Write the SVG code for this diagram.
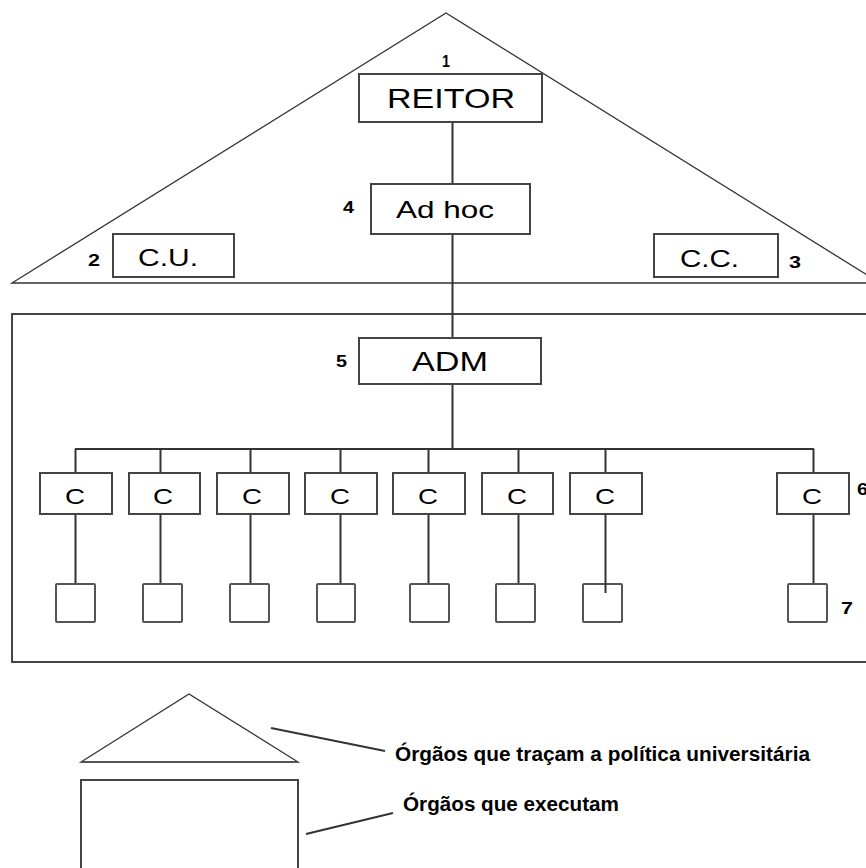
<svg xmlns="http://www.w3.org/2000/svg" width="866" height="868" viewBox="0 0 866 868">
<style>
.bg{fill:#fff}
.box{fill:#fff;stroke:#444;stroke-width:2}
.sbox{fill:#fff;stroke:#555;stroke-width:2}
.tri{fill:none;stroke:#333;stroke-width:1.3}
.frame{fill:none;stroke:#444;stroke-width:2}
.conn{fill:none;stroke:#333;stroke-width:2}
.lbl{font-family:"Liberation Sans",Arial,sans-serif;fill:#000;text-anchor:middle}
.num{font-family:"Liberation Sans",Arial,sans-serif;font-weight:bold;font-size:17px;fill:#000}
.leg{font-family:"Liberation Sans",Arial,sans-serif;font-weight:bold;font-size:20px;fill:#000}
</style>
<rect class="bg" x="0" y="0" width="866" height="868"/>

<!-- policy triangle and executive frame -->
<g id="policy-area">
  <polygon class="tri" points="12,283 446,13 880,283"/>
</g>
<g id="execution-area">
  <rect class="frame" x="12" y="314" width="870" height="348"/>
</g>

<g id="connectors">
  <line class="conn" x1="452.5" y1="122" x2="452.5" y2="184"/>
  <line class="conn" x1="452.5" y1="234" x2="452.5" y2="338"/>
  <line class="conn" x1="452.5" y1="384" x2="452.5" y2="449"/>
  <line class="conn" x1="75" y1="449" x2="814" y2="449"/>
  <line class="conn" x1="75.5" y1="449" x2="75.5" y2="473"/>
  <line class="conn" x1="160.5" y1="449" x2="160.5" y2="473"/>
  <line class="conn" x1="250.5" y1="449" x2="250.5" y2="473"/>
  <line class="conn" x1="340.5" y1="449" x2="340.5" y2="473"/>
  <line class="conn" x1="428.5" y1="449" x2="428.5" y2="473"/>
  <line class="conn" x1="518.5" y1="449" x2="518.5" y2="473"/>
  <line class="conn" x1="605.5" y1="449" x2="605.5" y2="473"/>
  <line class="conn" x1="813.5" y1="449" x2="813.5" y2="473"/>
  <line class="conn" x1="75.5" y1="514" x2="75.5" y2="584"/>
  <line class="conn" x1="160.5" y1="514" x2="160.5" y2="584"/>
  <line class="conn" x1="250.5" y1="514" x2="250.5" y2="584"/>
  <line class="conn" x1="340.5" y1="514" x2="340.5" y2="584"/>
  <line class="conn" x1="428.5" y1="514" x2="428.5" y2="584"/>
  <line class="conn" x1="518.5" y1="514" x2="518.5" y2="584"/>
  <line class="conn" x1="813.5" y1="514" x2="813.5" y2="584"/>
  <line class="conn" x1="271" y1="728" x2="385" y2="751" stroke-width="1.6"/>
  <line class="conn" x1="306" y1="834" x2="393" y2="813" stroke-width="1.6"/>
</g>

<g id="reitor">
  <rect class="box" x="359" y="74" width="183" height="48"/>
  <text class="lbl" x="451" y="108" font-size="28" textLength="128" lengthAdjust="spacingAndGlyphs">REITOR</text>
  <text class="num" x="442" y="67" textLength="8" lengthAdjust="spacingAndGlyphs">1</text>
</g>
<g id="adhoc">
  <rect class="box" x="371" y="184" width="159" height="50"/>
  <text class="lbl" x="445" y="218" font-size="24" textLength="98" lengthAdjust="spacingAndGlyphs">Ad hoc</text>
  <text class="num" x="343" y="213" textLength="11" lengthAdjust="spacingAndGlyphs">4</text>
</g>
<g id="cu">
  <rect class="box" x="113" y="234" width="121" height="43"/>
  <text class="lbl" x="168" y="266" font-size="23" textLength="60" lengthAdjust="spacingAndGlyphs">C.U.</text>
  <text class="num" x="88" y="266" textLength="12" lengthAdjust="spacingAndGlyphs">2</text>
</g>
<g id="cc">
  <rect class="box" x="654" y="234" width="124" height="43"/>
  <text class="lbl" x="709.5" y="267" font-size="23" textLength="59" lengthAdjust="spacingAndGlyphs">C.C.</text>
  <text class="num" x="789" y="268" textLength="12" lengthAdjust="spacingAndGlyphs">3</text>
</g>
<g id="adm">
  <rect class="box" x="359" y="338" width="182" height="46"/>
  <text class="lbl" x="450" y="371" font-size="27" textLength="76" lengthAdjust="spacingAndGlyphs">ADM</text>
  <text class="num" x="336" y="367" textLength="11" lengthAdjust="spacingAndGlyphs">5</text>
</g>

<g id="c1"><rect class="box" x="40" y="473" width="72" height="41"/><text class="lbl" x="75" y="504" font-size="22" textLength="20" lengthAdjust="spacingAndGlyphs">C</text></g>
<g id="c2"><rect class="box" x="129" y="473" width="71" height="41"/><text class="lbl" x="163" y="504" font-size="22" textLength="20" lengthAdjust="spacingAndGlyphs">C</text></g>
<g id="c3"><rect class="box" x="217" y="473" width="72" height="41"/><text class="lbl" x="252" y="504" font-size="22" textLength="20" lengthAdjust="spacingAndGlyphs">C</text></g>
<g id="c4"><rect class="box" x="305" y="473" width="72" height="41"/><text class="lbl" x="340" y="504" font-size="22" textLength="20" lengthAdjust="spacingAndGlyphs">C</text></g>
<g id="c5"><rect class="box" x="393" y="473" width="72" height="41"/><text class="lbl" x="428" y="504" font-size="22" textLength="20" lengthAdjust="spacingAndGlyphs">C</text></g>
<g id="c6"><rect class="box" x="482" y="473" width="71" height="41"/><text class="lbl" x="517" y="504" font-size="22" textLength="20" lengthAdjust="spacingAndGlyphs">C</text></g>
<g id="c7"><rect class="box" x="570" y="473" width="72" height="41"/><text class="lbl" x="605" y="504" font-size="22" textLength="20" lengthAdjust="spacingAndGlyphs">C</text></g>
<g id="c8"><rect class="box" x="777" y="473" width="72" height="41"/><text class="lbl" x="812" y="504" font-size="22" textLength="20" lengthAdjust="spacingAndGlyphs">C</text>
  <text class="num" x="857" y="495" textLength="11" lengthAdjust="spacingAndGlyphs">6</text></g>

<g id="u1"><rect class="sbox" x="56" y="584" width="39" height="38" rx="1"/></g>
<g id="u2"><rect class="sbox" x="143" y="584" width="39" height="38" rx="1"/></g>
<g id="u3"><rect class="sbox" x="230" y="584" width="39" height="38" rx="1"/></g>
<g id="u4"><rect class="sbox" x="317" y="584" width="38" height="38" rx="1"/></g>
<g id="u5"><rect class="sbox" x="410" y="584" width="39" height="38" rx="1"/></g>
<g id="u6"><rect class="sbox" x="496" y="584" width="39" height="38" rx="1"/></g>
<g id="u7"><rect class="sbox" x="583" y="584" width="39" height="38" rx="1"/><line class="conn" x1="605.5" y1="514" x2="605.5" y2="593"/></g>
<g id="u8"><rect class="sbox" x="788" y="584" width="39" height="38" rx="1"/>
  <text class="num" x="841" y="614" textLength="12" lengthAdjust="spacingAndGlyphs">7</text></g>

<g id="legend-policy">
  <polygon class="tri" points="81,762 189,694 298,762"/>
  <line x1="81" y1="762" x2="298" y2="762" stroke="#555" stroke-width="2"/>
  <text class="leg" x="395" y="761" textLength="415" lengthAdjust="spacingAndGlyphs">Órgãos que traçam a política universitária</text>
</g>
<g id="legend-exec">
  <rect class="frame" x="81" y="780" width="217" height="100" stroke="#666"/>
  <text class="leg" x="403" y="811" textLength="216" lengthAdjust="spacingAndGlyphs">Órgãos que executam</text>
</g>
</svg>
